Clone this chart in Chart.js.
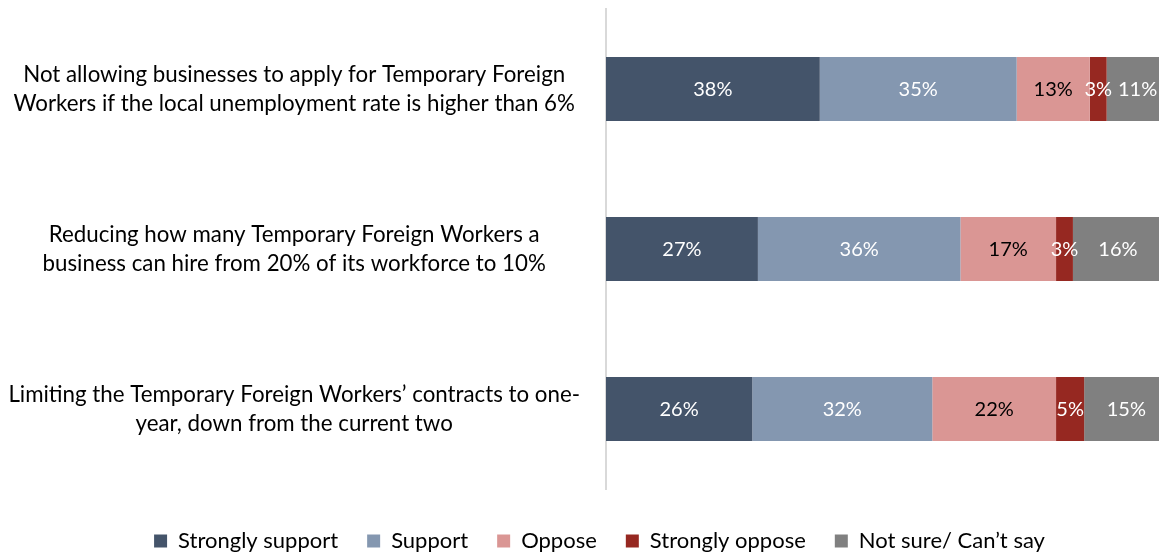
<!DOCTYPE html>
<html>
<head>
<meta charset="utf-8">
<script src="https://cdn.jsdelivr.net/npm/chart.js@4.4.1/dist/chart.umd.min.js"></script>
<style>
  html, body { margin: 0; padding: 0; background: #ffffff; overflow: hidden; }
  #wrap { position: relative; width: 1159px; height: 554px; }
</style>
</head>
<body>
<div id="wrap"><canvas id="c"></canvas></div>
<script>
const categories = [
  ["Not allowing businesses to apply for Temporary Foreign", "Workers if the local unemployment rate is higher than 6%"],
  ["Reducing how many Temporary Foreign Workers a", "business can hire from 20% of its workforce to 10%"],
  ["Limiting the Temporary Foreign Workers\u2019 contracts to one-", "year, down from the current two"]
];
const seriesNames = ["Strongly support", "Support", "Oppose", "Strongly oppose", "Not sure/ Can\u2019t say"];
const stronglySupport = [38, 27, 26];
const support = [35, 36, 32];
const oppose = [13, 17, 22];
const stronglyOppose = [3, 3, 5];
const notSure = [11, 16, 15];

const colors = ["#44546A", "#8497B0", "#DA9694", "#962821", "#808080"];
const labelColors = ["#ffffff", "#ffffff", "#000000", "#ffffff", "#ffffff"];
const FONT = "Lato, 'Open Sans', sans-serif";

const values = [stronglySupport, support, oppose, stronglyOppose, notSure];

const labelPlugin = {
  id: 'segLabels',
  afterDatasetsDraw(chart) {
    const ctx = chart.ctx;
    ctx.save();
    ctx.font = "20px " + FONT;
    ctx.textAlign = 'center';
    ctx.textBaseline = 'middle';
    chart.data.datasets.forEach((ds, i) => {
      const meta = chart.getDatasetMeta(i);
      meta.data.forEach((el, j) => {
        const cx = (el.x + el.base) / 2;
        ctx.fillStyle = labelColors[i];
        ctx.fillText(ds.data[j] + '%', cx, el.y + 1);
      });
    });
    ctx.restore();
  }
};

new Chart(document.getElementById('c'), {
  type: 'bar',
  data: {
    labels: categories,
    datasets: seriesNames.map((n, i) => ({
      label: n,
      data: values[i],
      backgroundColor: colors[i],
      borderWidth: 0,
      categoryPercentage: 0.4,
      barPercentage: 1.0
    }))
  },
  options: {
    indexAxis: 'y',
    responsive: true,
    maintainAspectRatio: false,
    animation: false,
    layout: { padding: { top: 9, left: 0, right: -40, bottom: 0 } },
    scales: {
      x: { stacked: true, display: false, min: 0, max: 98.3 },
      y: {
        stacked: true,
        grid: { display: false, drawTicks: false },
        border: { display: true, color: '#D9D9D9', width: 2 },
        ticks: {
          color: '#000000',
          font: { family: FONT, size: 22.3, lineHeight: 1.3 },
          padding: 26,
          crossAlign: 'center'
        },
        afterFit(scale) {
          scale.width = 606;
          scale.paddingTop = 0;
          scale.paddingBottom = 0;
        }
      }
    },
    plugins: {
      legend: {
        position: 'bottom',
        maxHeight: 65,
        title: { display: true, text: '', font: { size: 10, lineHeight: 1.2 }, padding: 0 },
        labels: {
          color: '#000000',
          font: { family: FONT, size: 22 },
          boxWidth: 13,
          boxHeight: 13,
          padding: 29
        }
      },
      tooltip: { enabled: false }
    }
  },
  plugins: [labelPlugin]
});
</script>
</body>
</html>
